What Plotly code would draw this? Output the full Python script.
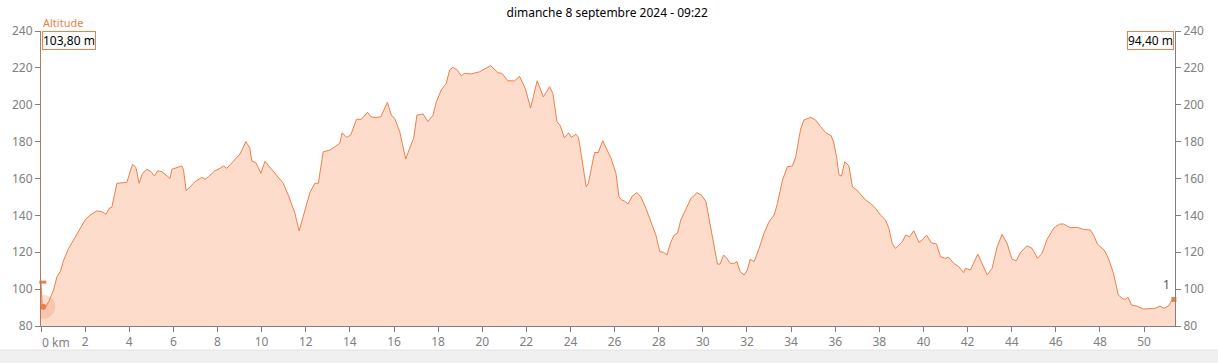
import plotly.graph_objects as go

km = [0.00, 0.05, 0.18, 0.35, 0.57, 0.72, 0.87, 1.03, 1.25, 1.48, 1.70, 2.00, 2.23, 2.53, 2.76, 2.94,
      3.09, 3.21, 3.44, 3.89, 4.15, 4.30, 4.45, 4.60, 4.80, 4.99, 5.14, 5.29, 5.48, 5.85, 5.93, 6.15,
      6.38, 6.46, 6.58, 6.76, 6.98, 7.29, 7.44, 7.59, 7.86, 8.11, 8.27, 8.42, 8.64, 9.02, 9.29, 9.47,
      9.55, 9.74, 9.97, 10.15, 10.45, 10.68, 10.98, 11.21, 11.36, 11.51, 11.70, 11.88, 12.19, 12.41,
      12.57, 12.79, 13.09, 13.32, 13.54, 13.65, 13.85, 14.04, 14.30, 14.52, 14.80, 14.95, 15.16, 15.40,
      15.51, 15.70, 15.88, 16.03, 16.26, 16.41, 16.53, 16.71, 16.89, 17.04, 17.32, 17.54, 17.77, 17.92,
      18.14, 18.37, 18.52, 18.67, 18.87, 19.05, 19.20, 19.50, 19.88, 20.10, 20.38, 20.71, 20.89, 21.16,
      21.46, 21.69, 21.95, 22.19, 22.49, 22.77, 23.05, 23.20, 23.39, 23.54, 23.72, 23.92, 24.03, 24.25,
      24.36, 24.48, 24.56, 24.71, 24.81, 25.01, 25.09, 25.26, 25.46, 25.66, 25.84, 26.06, 26.20, 26.32,
      26.44, 26.61, 26.80, 27.01, 27.19, 27.42, 27.65, 27.87, 28.05, 28.22, 28.37, 28.55, 28.70, 28.85,
      29.00, 29.23, 29.46, 29.73, 29.94, 30.14, 30.29, 30.48, 30.66, 30.78, 30.94, 31.09, 31.24, 31.42,
      31.54, 31.69, 31.87, 32.02, 32.14, 32.32, 32.55, 32.77, 33.00, 33.23, 33.38, 33.61, 33.83, 34.06,
      34.21, 34.43, 34.58, 34.89, 35.11, 35.34, 35.57, 35.82, 35.94, 36.06, 36.17, 36.28, 36.43, 36.62,
      36.78, 36.97, 37.15, 37.38, 37.60, 37.83, 38.05, 38.28, 38.43, 38.58, 38.73, 38.91, 39.04, 39.19,
      39.37, 39.56, 39.79, 39.94, 40.14, 40.35, 40.59, 40.77, 41.00, 41.14, 41.37, 41.60, 41.82, 41.90,
      42.13, 42.46, 42.66, 42.89, 43.11, 43.34, 43.56, 43.79, 44.01, 44.21, 44.39, 44.69, 44.92, 45.17,
      45.37, 45.60, 45.90, 46.17, 46.35, 46.65, 46.98, 47.25, 47.56, 47.71, 47.89, 48.19, 48.38, 48.61,
      48.83, 49.06, 49.17, 49.27, 49.43, 49.66, 49.96, 50.27, 50.49, 50.72, 50.90, 51.10, 51.29, 51.40]

altitude = [103.8, 92.0, 89.8, 93.2, 99.5, 106.7, 109.4, 115.8, 122.0, 126.6, 131.0, 137.5, 140.2, 142.4, 142.0, 140.6,
            143.8, 144.4, 157.4, 157.9, 167.7, 166.0, 157.4, 162.8, 165.0, 163.7, 161.3, 164.2, 163.7, 160.1, 165.0, 166.0,
            166.8, 164.6, 153.4, 155.5, 158.3, 160.6, 159.6, 161.0, 164.0, 165.5, 166.8, 165.5, 168.2, 173.3, 180.0, 176.4,
            169.5, 168.6, 162.8, 169.3, 165.0, 161.9, 157.4, 151.0, 146.5, 141.1, 131.5, 139.3, 152.4, 157.4,
            157.4, 174.5, 175.4, 177.2, 179.1, 184.8, 182.3, 183.6, 192.1, 192.1, 195.9, 193.5, 193.0, 193.5,
            196.6, 201.3, 194.4, 192.6, 185.4, 177.2, 170.6, 176.4, 181.8, 194.4, 195.0, 190.8, 194.4, 201.6,
            208.0, 211.6, 218.8, 220.3, 218.8, 215.7, 217.0, 216.7, 217.9, 219.4, 221.2, 217.4, 217.0, 213.0,
            212.9, 215.4, 208.9, 198.2, 213.0, 204.2, 209.8, 206.2, 190.8, 188.5, 182.1, 184.8, 182.3, 184.0,
            182.3, 173.6, 168.0, 155.5, 157.4, 169.0, 174.1, 174.1, 180.5, 175.4, 170.9, 162.8, 150.0, 148.3,
            147.8, 146.2, 150.5, 152.4, 150.0, 143.8, 136.6, 129.3, 120.3, 120.0, 118.5, 125.7, 129.3, 130.3,
            137.5, 143.8, 149.2, 152.3, 151.0, 147.4, 137.5, 124.8, 113.6, 113.6, 118.5, 116.7, 114.0, 114.0,
            114.9, 109.4, 107.7, 110.4, 116.2, 114.9, 122.1, 130.3, 136.6, 140.2, 146.5, 159.2, 166.4, 166.8,
            171.8, 186.8, 191.7, 193.2, 191.7, 188.1, 184.8, 183.2, 179.1, 171.8, 161.9, 161.3, 169.1, 166.8,
            155.5, 153.8, 151.6, 148.3, 146.5, 143.8, 140.2, 137.5, 133.0, 124.8, 122.1, 124.5, 125.7, 129.3,
            128.4, 131.7, 125.4, 126.6, 129.3, 125.2, 124.5, 117.6, 116.7, 117.3, 114.0, 112.2, 108.9, 111.3,
            110.4, 119.0, 114.0, 107.7, 111.3, 123.0, 129.7, 124.8, 116.2, 115.4, 119.8, 123.5, 122.1, 116.7,
            119.4, 127.0, 133.0, 135.3, 135.3, 133.3, 133.5, 132.4, 132.1, 129.3, 124.3, 121.2, 116.7, 108.6,
            96.8, 94.6, 94.6, 95.6, 91.4, 90.8, 89.2, 89.2, 89.6, 90.8, 89.6, 90.8, 94.6, 94.4]

x_ticks = list(range(0, 51, 2))
x_ticktext = [""] + [str(v) for v in x_ticks[1:]]
y_ticks = [80, 100, 120, 140, 160, 180, 200, 220, 240]
title_text = "dimanche 8 septembre 2024 - 09:22"
start_label = "103,80 m"
end_label = "94,40 m"

LINE = "#ef7f4a"
FILL = "#fddccb"
GRAY = "#808080"
FONT = "Noto Sans"

fig = go.Figure()
fig.add_trace(go.Scatter(x=km, y=altitude, mode="lines", fill="tozeroy",
                         fillcolor=FILL, line=dict(color=LINE, width=1),
                         hoverinfo="skip", showlegend=False))
# invisible trace for right axis
fig.add_trace(go.Scatter(x=[km[0]], y=[altitude[0]], yaxis="y2", mode="markers",
                         marker=dict(opacity=0), showlegend=False, hoverinfo="skip"))
# start halo + dot
fig.add_trace(go.Scatter(x=[km[1] + 0.05], y=[altitude[2] + 0.7], mode="markers",
                         marker=dict(size=24, color="rgba(240,128,80,0.25)", line=dict(width=0)),
                         showlegend=False, hoverinfo="skip"))
fig.add_trace(go.Scatter(x=[km[1] + 0.05], y=[altitude[2] + 0.7], mode="markers",
                         marker=dict(size=6, color=LINE, line=dict(width=0)),
                         showlegend=False, hoverinfo="skip"))
# start value tick
fig.add_trace(go.Scatter(x=[0.08], y=[altitude[0]], mode="markers",
                         marker=dict(symbol="line-ew", size=5, line=dict(color=LINE, width=3)),
                         showlegend=False, hoverinfo="skip", cliponaxis=False))
# end marker
fig.add_trace(go.Scatter(x=[km[-1] - 0.05], y=[altitude[-1]], mode="markers",
                         marker=dict(symbol="square", size=5, color=LINE),
                         showlegend=False, hoverinfo="skip", cliponaxis=False))

axis_common = dict(showgrid=False, zeroline=False, ticks="outside", ticklen=5,
                   tickcolor=GRAY, tickfont=dict(color=GRAY, size=12, family=FONT))

fig.update_layout(
    width=1218, height=363,
    margin=dict(l=39, r=43, t=31, b=37),
    paper_bgcolor="white", plot_bgcolor="white",
    font=dict(family=FONT, size=12, color="black"),
    title=dict(text=title_text, x=0.4985, xanchor="center", y=0.965, yanchor="middle",
               font=dict(size=12, color="black", family=FONT)),
    xaxis=dict(range=[0, 51.4], tickvals=x_ticks, ticktext=x_ticktext,
               showline=True, linecolor=GRAY, linewidth=1, **axis_common),
    yaxis=dict(range=[80, 240], tickvals=y_ticks, showline=True,
               linecolor="#b07a5e", linewidth=1, **axis_common),
    yaxis2=dict(range=[80, 240], tickvals=y_ticks, overlaying="y", side="right",
                showline=True, linecolor=GRAY, linewidth=1, **axis_common),
    showlegend=False,
)

fig.add_annotation(x=0, y=-0.055, xref="x", yref="paper", text="0 km", showarrow=False,
                   xanchor="left", yanchor="middle", xshift=-1,
                   font=dict(color=GRAY, size=12, family=FONT))
fig.add_annotation(x=0, y=1.03, xref="paper", yref="paper", text="Altitude", showarrow=False,
                   xanchor="left", yanchor="middle", font=dict(color=LINE, size=11, family=FONT))
fig.add_annotation(x=0, y=240, xref="x", yref="y", text=start_label, showarrow=False,
                   xanchor="left", yanchor="top", xshift=1, bordercolor=LINE, borderwidth=1,
                   borderpad=0, bgcolor="white", font=dict(color="black", size=12, family=FONT))
fig.add_annotation(x=km[-1], y=240, xref="x", yref="y", text=end_label, showarrow=False,
                   xanchor="right", yanchor="top", xshift=-1, bordercolor=LINE, borderwidth=1,
                   borderpad=0, bgcolor="white", font=dict(color="black", size=12, family=FONT))
fig.add_annotation(x=km[-1], y=altitude[-1], xref="x", yref="y", text="1", showarrow=False,
                   xanchor="right", yanchor="bottom", xshift=-3, yshift=4,
                   font=dict(color="#555555", size=12, family=FONT))

# bottom grey strip
fig.add_shape(type="rect", xref="paper", yref="paper", x0=-0.04, x1=1.04, y0=-0.13, y1=-0.0815,
              fillcolor="#f0f0f0", line=dict(color="#e3e3e3", width=1), layer="below")

fig.write_html("out.html", config={"displayModeBar": False},
               post_script="document.body.style.margin='0';document.body.style.overflow='hidden';")
